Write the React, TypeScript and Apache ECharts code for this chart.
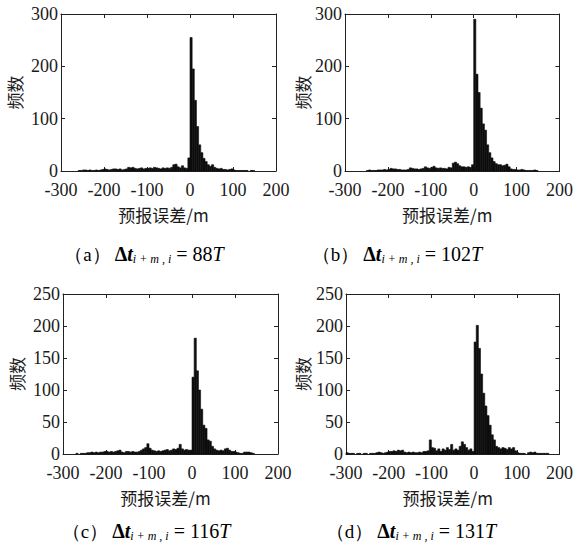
import React, { useEffect, useRef } from 'react';
import * as echarts from 'echarts';

// Histogram definition: 5 m bins from -300 m to 200 m
const X_MIN = -300;
const X_MAX = 200;
const BIN = 5;
const X_STEP = 100;

// Counts per 5 m bin, starting at -300 m (100 bins)
const countsA = [
  0, 0, 0, 0, 0, 0, 0, 0, 1, 1,
  2, 2, 1, 2, 1, 1, 2, 1, 2, 3,
  4, 3, 2, 3, 4, 4, 3, 4, 2, 3,
  4, 7, 6, 7, 5, 4, 5, 6, 4, 5,
  5, 6, 5, 7, 6, 5, 4, 6, 5, 6,
  5, 7, 12, 13, 8, 6, 10, 6, 5, 25,
  255, 195, 135, 85, 50, 35, 24, 18, 12, 9,
  12, 7, 5, 4, 5, 3, 3, 2, 3, 4,
  2, 1, 1, 1, 1, 1, 1, 0, 1, 1,
  0, 0, 0, 0, 0, 0, 0, 0, 0, 0,
];
const countsB = [
  0, 0, 0, 0, 0, 0, 0, 0, 0, 0,
  1, 2, 1, 1, 1, 2, 2, 2, 3, 2,
  3, 5, 4, 4, 3, 3, 2, 2, 2, 3,
  6, 5, 4, 4, 3, 4, 5, 8, 6, 5,
  7, 9, 6, 5, 6, 5, 5, 4, 7, 6,
  15, 17, 14, 10, 8, 8, 7, 8, 7, 12,
  290, 185, 150, 120, 90, 78, 50, 35, 25, 18,
  14, 12, 12, 10, 11, 13, 8, 4, 3, 3,
  2, 2, 3, 2, 1, 1, 1, 1, 2, 1,
  0, 0, 0, 0, 0, 0, 0, 0, 0, 0,
];
const countsC = [
  0, 0, 0, 0, 0, 0, 1, 0, 1, 1,
  1, 2, 2, 3, 2, 3, 2, 3, 3, 4,
  4, 3, 4, 3, 4, 5, 6, 3, 2, 4,
  4, 3, 4, 3, 3, 4, 6, 8, 10, 16,
  9, 6, 5, 4, 5, 4, 5, 6, 7, 5,
  6, 8, 7, 9, 15, 8, 6, 7, 6, 6,
  120, 181, 130, 100, 70, 45, 40, 22, 20, 12,
  8, 6, 5, 6, 5, 8, 9, 6, 4, 4,
  3, 2, 1, 1, 3, 3, 3, 2, 1, 0,
  0, 0, 0, 0, 0, 0, 0, 0, 0, 0,
];
const countsD = [
  2, 1, 1, 1, 0, 1, 1, 0, 1, 1,
  0, 1, 1, 1, 2, 3, 2, 1, 2, 3,
  4, 4, 5, 4, 6, 5, 6, 3, 2, 3,
  2, 3, 2, 2, 3, 2, 4, 4, 5, 22,
  10, 9, 5, 8, 4, 8, 6, 10, 7, 15,
  6, 8, 6, 12, 19, 15, 10, 6, 8, 4,
  175, 201, 165, 125, 95, 75, 60, 45, 30, 22,
  12, 10, 8, 10, 9, 7, 10, 8, 10, 5,
  2, 1, 1, 1, 0, 2, 3, 2, 3, 1,
  1, 1, 1, 1, 1, 0, 0, 0, 0, 0,
];

const panelLetters = ['a', 'b', 'c', 'd'];
const panelSteps = ['88', '102', '116', '131'];
const panelYMax = [300, 300, 250, 250];
const panelYStep = [100, 100, 50, 50];
const panelCounts = [countsA, countsB, countsC, countsD];

const X_NAME = '预报误差/m';
const Y_NAME = '频数';

const layout = [
  { left: 61, top: 14, width: 215, height: 157, yGap: 38, cx: 144, cy: 254 },
  { left: 345, top: 14, width: 215, height: 157, yGap: 34, cx: 397, cy: 254 },
  { left: 63, top: 294, width: 215, height: 160, yGap: 38, cx: 146, cy: 531 },
  { left: 346, top: 294, width: 216, height: 160, yGap: 35, cx: 411, cy: 531 },
];

const SERIF = "'Liberation Serif', 'Times New Roman', serif";
const CJK = "'Noto Sans CJK SC', sans-serif";
const AXIS_COLOR = '#222';
const TEXT_COLOR = '#1a1a1a';
const BAR_COLOR = '#0d0d0d';

function buildOption() {
  const grid: any[] = [];
  const xAxis: any[] = [];
  const yAxis: any[] = [];
  const series: any[] = [];
  const graphic: any[] = [];

  panelCounts.forEach((counts, p) => {
    const L = layout[p];
    grid.push({ left: L.left, top: L.top, width: L.width, height: L.height, containLabel: false });
    const baseX = {
      type: 'value',
      gridIndex: p,
      min: X_MIN,
      max: X_MAX,
      interval: X_STEP,
      splitLine: { show: false },
      axisLine: { show: true, onZero: false, lineStyle: { color: AXIS_COLOR, width: 1 } },
      axisTick: { show: true, inside: true, length: 4, lineStyle: { color: AXIS_COLOR } },
    };
    xAxis.push({
      ...baseX,
      position: 'bottom',
      name: X_NAME,
      nameLocation: 'middle',
      nameGap: 33,
      nameTextStyle: { fontFamily: CJK, fontSize: 17, lineHeight: 20, color: TEXT_COLOR, padding: [0, 10, 0, 0] },
      axisLabel: { fontFamily: SERIF, fontSize: 18, lineHeight: 14, color: TEXT_COLOR, margin: 12 },
    });
    xAxis.push({ ...baseX, position: 'top', axisLabel: { show: false } });
    const baseY = {
      type: 'value',
      gridIndex: p,
      min: 0,
      max: panelYMax[p],
      interval: panelYStep[p],
      splitLine: { show: false },
      axisLine: { show: true, onZero: false, lineStyle: { color: AXIS_COLOR, width: 1 } },
      axisTick: { show: true, inside: true, length: 4, lineStyle: { color: AXIS_COLOR } },
    };
    yAxis.push({
      ...baseY,
      position: 'left',
      name: Y_NAME,
      nameLocation: 'middle',
      nameRotate: 90,
      nameGap: L.yGap,
      nameTextStyle: { fontFamily: CJK, fontSize: 17, color: TEXT_COLOR },
      axisLabel: { fontFamily: SERIF, fontSize: 18, lineHeight: 14, color: TEXT_COLOR, margin: 3 },
    });
    yAxis.push({ ...baseY, position: 'right', axisLabel: { show: false } });

    // [binStart, binEnd, count]
    const data = counts.map((c, i) => [X_MIN + BIN * i, X_MIN + BIN * (i + 1), c]);
    series.push({
      type: 'custom',
      xAxisIndex: p * 2,
      yAxisIndex: p * 2,
      data,
      encode: { x: [0, 1], y: 2 },
      silent: true,
      renderItem: (params: any, api: any) => {
        const v = api.value(2);
        if (!v) return null;
        const p0 = api.coord([api.value(0), 0]);
        const p1 = api.coord([api.value(1), v]);
        return {
          type: 'rect',
          shape: { x: p0[0], y: p1[1], width: p1[0] - p0[0], height: p0[1] - p1[1] },
          style: { fill: BAR_COLOR, stroke: BAR_COLOR, lineWidth: 0.6 },
        };
      },
    });

    graphic.push({
      type: 'text',
      x: L.cx,
      y: L.cy,
      style: {
        text: `{p|（${panelLetters[p]}）}{d|Δ}{t|t}{s|i + m , i}{e| = ${panelSteps[p]}}{T|T}`,
        align: 'center',
        verticalAlign: 'middle',
        rich: {
          p: { fontFamily: SERIF, fontSize: 19, color: TEXT_COLOR, lineHeight: 22, padding: [0, 4, 0, 0] },
          d: { fontFamily: SERIF, fontSize: 20, fontWeight: 'bold', color: TEXT_COLOR, lineHeight: 22 },
          t: { fontFamily: SERIF, fontSize: 20, fontWeight: 'bold', fontStyle: 'italic', color: TEXT_COLOR, lineHeight: 22 },
          s: { fontFamily: SERIF, fontSize: 12, fontStyle: 'italic', color: TEXT_COLOR, lineHeight: 4, verticalAlign: 'bottom' },
          e: { fontFamily: SERIF, fontSize: 20, color: TEXT_COLOR, lineHeight: 22 },
          T: { fontFamily: SERIF, fontSize: 20, fontStyle: 'italic', color: TEXT_COLOR, lineHeight: 22 },
        },
      },
    });
  });

  return {
    animation: false,
    backgroundColor: '#fff',
    grid,
    xAxis,
    yAxis,
    series,
    graphic,
  };
}

export default function App() {
  const ref = useRef<HTMLDivElement>(null);
  useEffect(() => {
    document.body.style.margin = '0';
    if (!ref.current) return;
    const chart = echarts.init(ref.current, undefined, { renderer: 'svg' });
    chart.setOption(buildOption() as any);
    return () => chart.dispose();
  }, []);
  return <div ref={ref} style={{ width: 576, height: 549 }} />;
}
